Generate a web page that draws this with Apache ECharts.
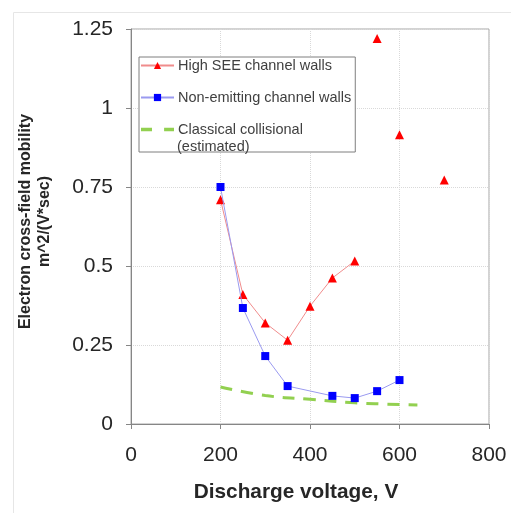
<!DOCTYPE html>
<html>
<head>
<meta charset="utf-8">
<script src="https://cdn.jsdelivr.net/npm/echarts@6/dist/echarts.min.js"></script>
<style>
  html, body { margin: 0; padding: 0; background: #fff; }
  #chart { width: 511px; height: 513px; }
</style>
</head>
<body>
<div id="chart"></div>
<script>
const voltsSee = [200, 250, 300, 350, 400, 450, 500];
const mobilitySee = [0.71, 0.41, 0.32, 0.265, 0.373, 0.462, 0.516];
const voltsSeeLoose = [550, 600, 700];
const mobilitySeeLoose = [1.22, 0.915, 0.772];
const voltsNonEmit = [200, 250, 300, 350, 450, 500, 550, 600];
const mobilityNonEmit = [0.75, 0.367, 0.215, 0.12, 0.089, 0.082, 0.104, 0.139];
const voltsClassical = [200, 300, 400, 500, 640];
const mobilityClassical = [0.117, 0.09, 0.078, 0.067, 0.06];

const names = ['High SEE channel walls', 'Non-emitting channel walls', 'Classical collisional'];
const pairs = (xs, ys) => xs.map((x, i) => [x, ys[i]]);
const font = 'Arial, "Liberation Sans", sans-serif';

(() => {
  const chart = echarts.init(document.getElementById('chart'), null, { renderer: 'canvas' });
  const red = '#ff0000', redLine = '#f08c8c';
  const blue = '#0000ff', blueLine = '#9a9af0';
  const green = '#92d050';

  chart.setOption({
    animation: false,
    textStyle: { fontFamily: font },
    grid: { left: 131, right: 22, top: 29, bottom: 89, show: true, borderColor: '#a6a6a6', borderWidth: 1 },
    legend: {
      orient: 'vertical',
      left: 139,
      top: 57,
      padding: [1, 4, 15, 1],
      itemGap: 17,
      itemWidth: 33,
      itemHeight: 9,
      borderColor: '#7f7f7f',
      borderWidth: 1,
      backgroundColor: '#fff',
      textStyle: { fontSize: 14.5, color: '#404040', fontFamily: font, padding: [0, 0, 0, -1] },
      data: [
        names[0],
        names[1],
        { name: names[2], icon: 'path://M0,0h10v3h-10z M21,0h9v3h-9z', itemStyle: { color: green } },
      ],
    },
    graphic: [
      { type: 'rect', left: 11, top: 10, shape: { width: 520, height: 520 }, style: { fill: 'none', stroke: '#e6e6e6', lineWidth: 1 }, silent: true, z: -1 },
      { type: 'text', left: 177, top: 139, style: { text: '(estimated)', fontSize: 14.5, fill: '#404040', fontFamily: font }, z: 10 },
    ],
    xAxis: {
      type: 'value',
      min: 0,
      max: 800,
      interval: 200,
      name: 'Discharge voltage, V',
      nameLocation: 'middle',
      nameGap: 58,
      nameTextStyle: { fontSize: 20.8, fontWeight: 'bold', color: '#262626', padding: [0, 28, 0, 0] },
      axisLine: { lineStyle: { color: '#868686', width: 1 } },
      axisTick: { show: true, length: 5, lineStyle: { color: '#868686' } },
      axisLabel: { fontSize: 21, color: '#262626', margin: 21 },
      splitLine: { lineStyle: { color: '#d9d9d9', type: 'dotted' } },
    },
    yAxis: {
      type: 'value',
      min: 0,
      max: 1.25,
      interval: 0.25,
      name: 'Electron cross-field mobility\nm^2/(V*sec)',
      nameLocation: 'middle',
      nameGap: 77,
      nameTextStyle: { fontSize: 16, fontWeight: 'bold', color: '#262626', lineHeight: 19, padding: [0, 0, 0, 10] },
      axisLine: { show: true, lineStyle: { color: '#868686', width: 1 } },
      axisTick: { show: true, length: 5, lineStyle: { color: '#868686' } },
      axisLabel: { fontSize: 21, color: '#262626', margin: 18 },
      splitLine: { lineStyle: { color: '#d9d9d9', type: 'dotted' } },
    },
    series: [
      {
        name: names[0], type: 'line', symbol: 'triangle', symbolSize: 9,
        itemStyle: { color: red }, lineStyle: { color: redLine, width: 1 },
        data: pairs(voltsSee, mobilitySee), z: 3,
      },
      {
        name: names[0], type: 'line', symbol: 'triangle', symbolSize: 9,
        itemStyle: { color: red }, lineStyle: { width: 0, opacity: 0 },
        data: pairs(voltsSeeLoose, mobilitySeeLoose), z: 3,
      },
      {
        name: names[1], type: 'line', symbol: 'rect', symbolSize: 8,
        itemStyle: { color: blue }, lineStyle: { color: blueLine, width: 1 },
        data: pairs(voltsNonEmit, mobilityNonEmit), z: 4,
      },
      {
        name: names[2], type: 'line', symbol: 'none', smooth: 0.4,
        itemStyle: { color: green }, lineStyle: { color: green, width: 3, type: [12, 9] },
        data: pairs(voltsClassical, mobilityClassical), z: 2,
      },
    ],
  });
})();
</script>
</body>
</html>
